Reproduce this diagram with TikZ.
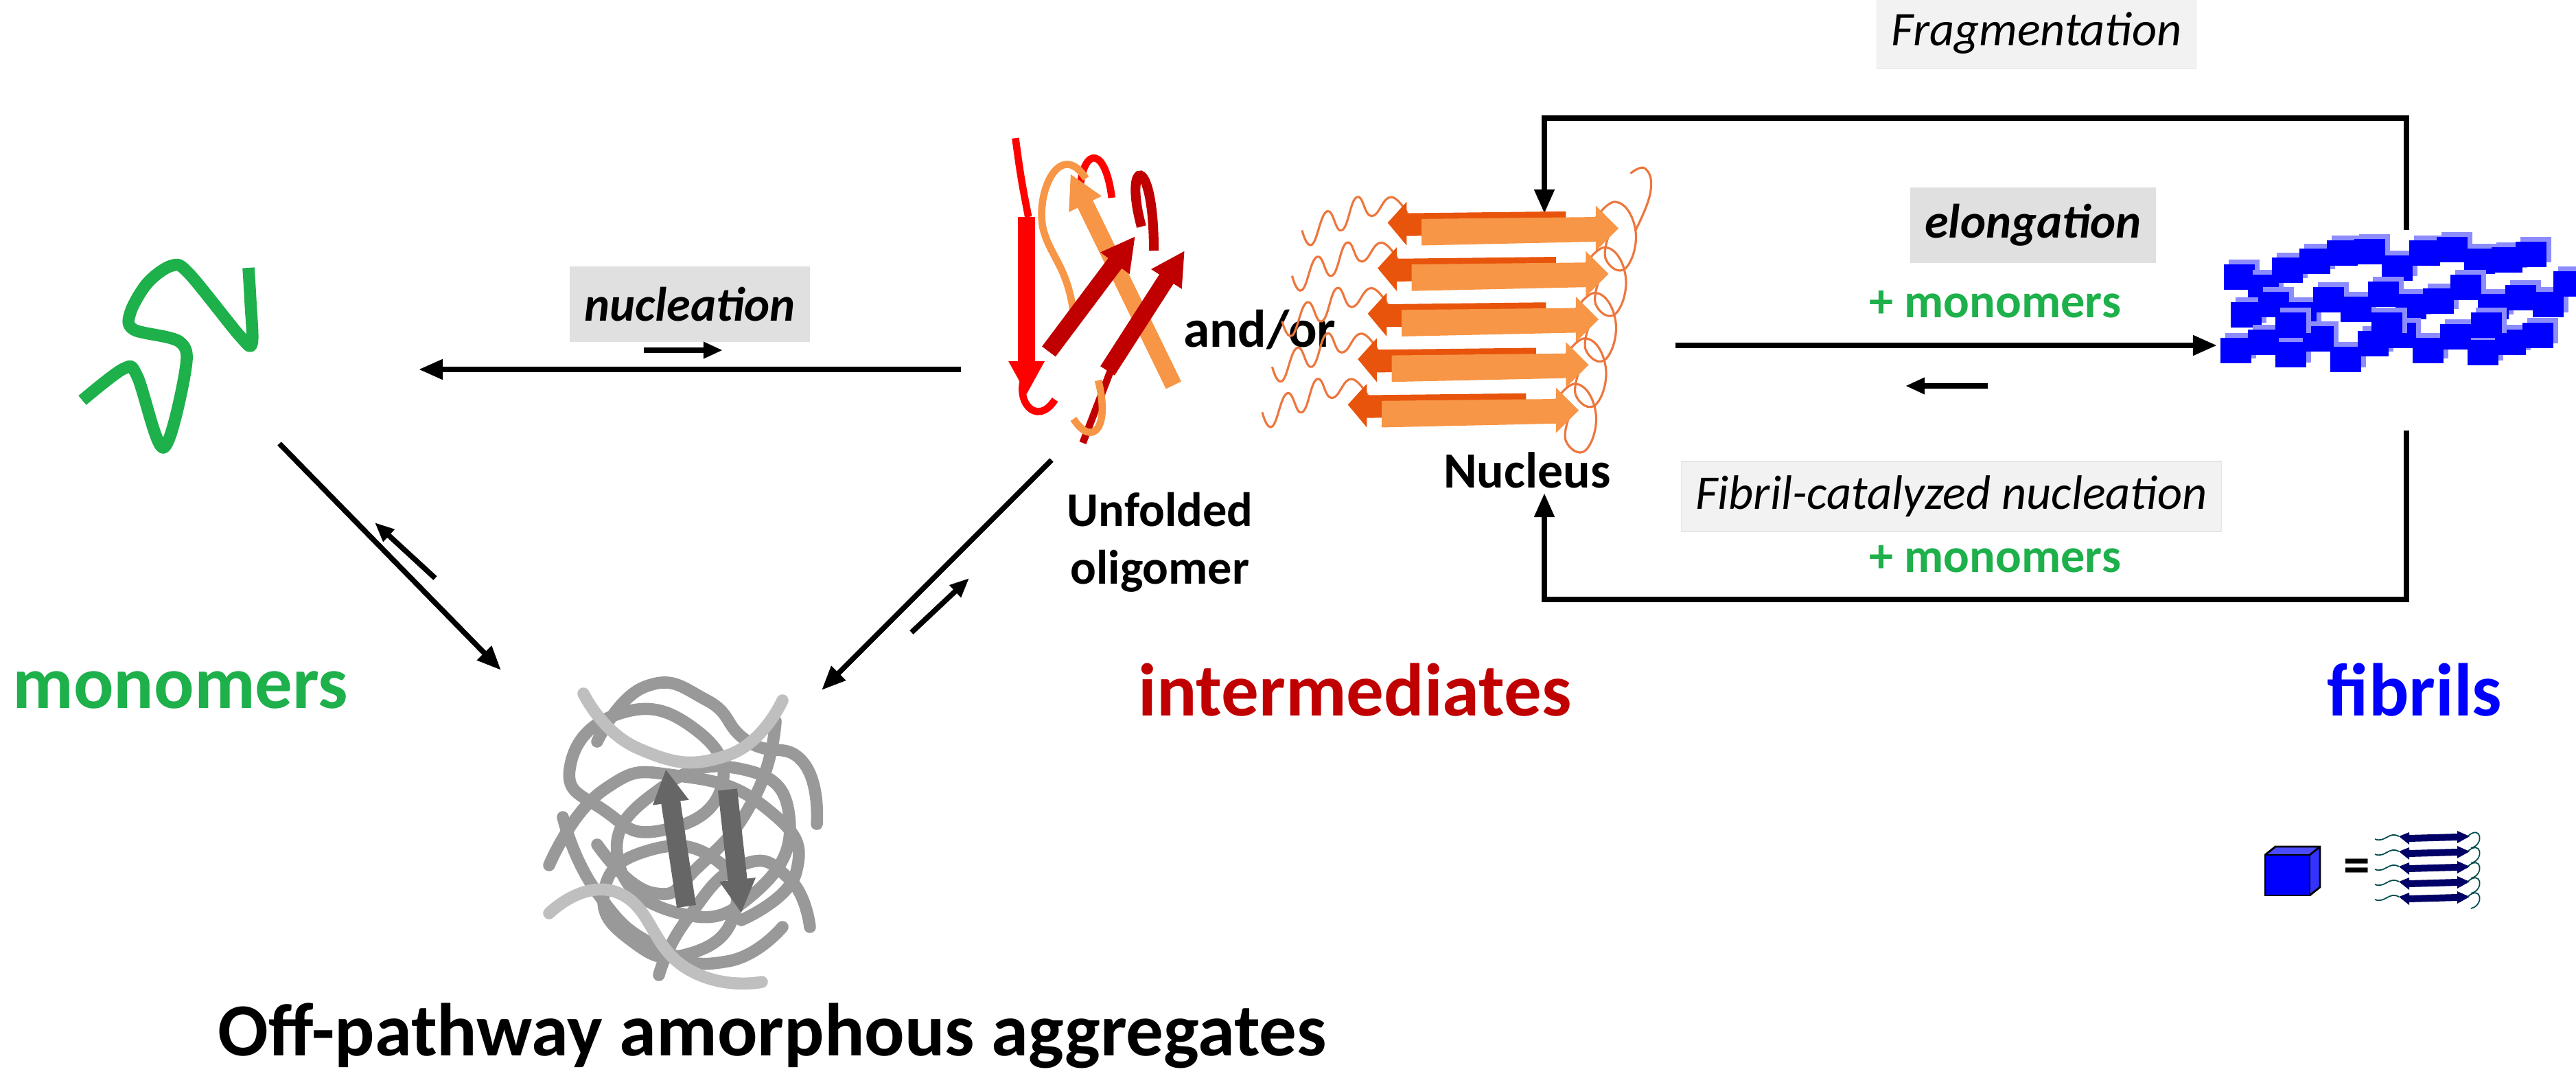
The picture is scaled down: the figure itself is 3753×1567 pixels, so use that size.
\documentclass[tikz,border=0pt]{standalone}
\usepackage{fontspec}
\setmainfont{Carlito}
\usetikzlibrary{arrows.meta}
\definecolor{mgreen}{HTML}{1DB04B}
\definecolor{mred}{HTML}{C00000}
\definecolor{mblue}{HTML}{0000FF}
\definecolor{dred}{HTML}{C00000}
\definecolor{lorange}{HTML}{F79646}
\definecolor{dorange}{HTML}{E8540C}
\begin{document}
\begin{tikzpicture}[x=0.01cm,y=-0.01cm,
  conn/.style={line width=2.2pt,-{Triangle[length=10pt,width=8pt]}},
  small/.style={line width=2.2pt,-{Triangle[length=8pt,width=6.5pt]}},
  big/.style={font=\fontsize{31}{34}\selectfont\bfseries},
  lab/.style={font=\fontsize{20}{24}\selectfont},
  darkbox/.style={fill=black!12,inner sep=6pt,minimum height=31pt},
  lightbox/.style={fill=black!5,draw=black!10,inner sep=6pt,minimum height=27pt},
  strand/.style={line width=7pt,-{Triangle[length=14pt,width=14pt]}},
  cube/.style={fill=mblue,draw=mblue!60!white,line width=0.6pt}]
\useasboundingbox (0,0) rectangle (3753,1567);
% ---------- texts
\node[big,text=mgreen] (mono) at (263,1005) {monomers};
\node[big,text=mred] (inter) at (1974,1005) {intermediates};
\node[big,text=mblue] (fib) at (3518,1005) {fibrils};
\node[big] (off) at (1125,1508) {Off-pathway amorphous aggregates};
\node[lab,font=\fontsize{20}{24}\selectfont\bfseries,align=center] (unf) at (1690,790) {Unfolded\\oligomer};
\node[lab,font=\fontsize{22}{24}\selectfont\bfseries] (andor) at (1835,480) {and/or};
\node[lab,font=\fontsize{21}{24}\selectfont\bfseries] (nucl) at (2225,685) {Nucleus};
\node[darkbox,lab,font=\fontsize{20}{24}\selectfont\bfseries\itshape] (nucbox) at (1005,443) {nucleation};
\node[darkbox,lab,font=\fontsize{20}{24}\selectfont\bfseries\itshape] (elbox) at (2962,328) {elongation};
\node[lab,text=mgreen,font=\fontsize{20}{24}\selectfont\bfseries] (pm1) at (2907,443) {+ monomers};
\node[lightbox,lab,font=\fontsize{20}{24}\selectfont\itshape] (frag) at (2967,48) {Fragmentation};
\node[lightbox,lab,font=\fontsize{20}{24}\selectfont\itshape] (fcat) at (2843,723) {Fibril-catalyzed nucleation};
\node[lab,text=mgreen,font=\fontsize{20}{24}\selectfont\bfseries] (pm2) at (2907,814) {+ monomers};
% ---------- coordinates for connectors
\coordinate (n1) at (1400,538); \coordinate (n2) at (610,538);
\coordinate (s1) at (938,510); \coordinate (s2) at (1053,510);
\coordinate (l1) at (407,646); \coordinate (l2) at (730,976);
\coordinate (ls1) at (634,842); \coordinate (ls2) at (546,761);
\coordinate (r1) at (1532,670); \coordinate (r2) at (1197,1005);
\coordinate (rs1) at (1328,921); \coordinate (rs2) at (1412,842);
\coordinate (e1) at (2441,503); \coordinate (e2) at (3230,503);
\coordinate (es1) at (2896,562); \coordinate (es2) at (2776,562);
\coordinate (f1) at (3506,335); \coordinate (f2) at (2250,311);
\coordinate (b1) at (3506,627); \coordinate (b2) at (2250,718);
\draw[conn] (n1) -- (n2);
\draw[small] (s1) -- (s2);
\draw[conn] (l1) -- (l2);
\draw[small] (ls1) -- (ls2);
\draw[conn] (r1) -- (r2);
\draw[small] (rs1) -- (rs2);
\draw[conn] (e1) -- (e2);
\draw[small] (es1) -- (es2);
\draw[conn] (f1) -- (3506,172) -| (f2);
\draw[conn] (b1) -- (3506,873) -| (b2);
% ---------- green monomer
\draw[mgreen,line width=5pt,line join=round] plot[smooth,tension=0.55] coordinates
 {(120,583) (180,537) (200,548) (238,652) (270,540) (262,498) (195,480) (190,455) (215,412) (250,387) (275,398) (350,490) (367,500) (365,440) (362,390)};
% ---------- amorphous aggregates
\begin{scope}[line width=5pt,line cap=round,black!40]
\draw plot[smooth cycle,tension=0.9] coordinates {(830,1120) (900,1040) (1010,1060) (1050,1150) (960,1210) (880,1180)};
\draw plot[smooth,tension=0.9] coordinates {(800,1260) (880,1150) (990,1130) (1120,1180) (1160,1270) (1080,1340)};
\draw plot[smooth cycle,tension=0.9] coordinates {(900,1250) (960,1150) (1080,1120) (1150,1190) (1100,1300) (990,1330)};
\draw plot[smooth,tension=0.9] coordinates {(870,1080) (940,1000) (1030,1020) (1090,1080) (1170,1110) (1190,1200)};
\draw plot[smooth,tension=0.9] coordinates {(820,1190) (870,1300) (960,1380) (1060,1400) (1140,1350)};
\draw plot[smooth cycle,tension=0.9] coordinates {(880,1300) (940,1240) (1040,1250) (1070,1330) (1000,1390) (920,1370)};
\draw plot[smooth,tension=0.9] coordinates {(1130,1050) (1100,1160) (1020,1260) (950,1300) (870,1230)};
\draw plot[smooth,tension=0.9] coordinates {(960,1420) (1000,1340) (1080,1260) (1150,1280) (1180,1350)};
\draw[black!25] plot[smooth,tension=0.9] coordinates {(850,1010) (930,1090) (1060,1100) (1140,1020)};
\draw[black!25] plot[smooth,tension=0.9] coordinates {(800,1330) (900,1300) (1000,1410) (1110,1430)};
\end{scope}
\draw[black!60,line width=8pt,-{Triangle[length=14pt,width=14pt]}] (1000,1320) -- (970,1120);
\draw[black!60,line width=8pt,-{Triangle[length=14pt,width=14pt]}] (1060,1150) -- (1080,1330);
% ---------- unfolded oligomer
\begin{scope}[shift={(70,-244)},xscale=0.9,yscale=1.4]
\draw[red,line width=3pt] (1566,318) .. controls (1575,360) .. (1587,400);
\draw[red,line width=3pt] (1630,590) .. controls (1600,620) and (1560,590) .. (1585,560);
\draw[red,line width=3pt] (1722,380) .. controls (1710,320) and (1670,330) .. (1670,380);
\draw[lorange,line width=3pt] (1680,360) .. controls (1640,320) and (1600,370) .. (1610,410) .. controls (1620,440) and (1650,450) .. (1660,500);
\draw[dred,line width=4pt] (1790,435) .. controls (1790,330) and (1740,340) .. (1770,410);
\draw[strand,red] (1584,400) -- (1584,585);
\draw[strand,lorange] (1822,575) -- (1655,355);
\draw[strand,dred] (1620,540) -- (1760,420);
\draw[strand,dred] (1715,560) -- (1840,435);
\draw[dred,line width=3pt] (1675,635) -- (1720,560);
\draw[lorange,line width=3pt] (1700,570) .. controls (1720,620) and (1690,640) .. (1660,610);
\end{scope}
% ---------- nucleus
\begin{scope}[shift={(-1061,-189)},xscale=1.45,yscale=1.38]
\foreach \i in {0,...,4}{
  \begin{scope}[shift={(-10*\i,48*\i)}]
   \draw[dorange!80,line width=0.9pt] plot[smooth,tension=0.8] coordinates {(2150,370) (2130,345) (2110,365) (2095,345) (2080,380) (2065,360) (2050,395) (2040,380)};
   \draw[dorange!80,line width=0.9pt] plot[smooth,tension=0.8] coordinates {(2330,375) (2355,350) (2375,380) (2365,420) (2345,410) (2350,380)};
   \fill[dorange] (2126,372) -- (2145,350) -- (2145,362) -- (2305,360) -- (2305,384) -- (2145,386) -- (2145,396) -- cycle;
   \fill[lorange] (2160,368) -- (2335,366) -- (2335,354) -- (2358,378) -- (2335,402) -- (2335,392) -- (2160,396) -- cycle;
  \end{scope}}
\draw[dorange!80,line width=0.9pt] plot[smooth,tension=0.8] coordinates {(2375,380) (2390,340) (2385,315) (2370,320)};
\end{scope}
% ---------- fibrils
\foreach \x/\y in {3240/385,3275/400,3310/375,3350/362,3390/350,3430/348,3470/372,3510/350,3550/345,3590/362,3630/360,3665/352,
  3250/440,3290/425,3330/440,3370/418,3410/432,3450/410,3490/428,3530/420,3570/400,3610/428,3650/415,3690/425,
  3235/492,3275/480,3315/498,3355/475,3395/505,3435/482,3475/470,3515/492,3555/472,3595/495,3635/480,3675/470,3315/455,3455/455,3600/455,3720/395}{
  \fill[blue!45] (\x+7,\y-7) rectangle (\x+52,\y+30);
  \fill[mblue] (\x,\y) rectangle (\x+45,\y+37);}
% ---------- legend
\fill[mblue!70] (3300,1245) -- (3315,1233) -- (3380,1233) -- (3365,1245) -- cycle;
\fill[mblue!80] (3365,1245) -- (3380,1233) -- (3380,1292) -- (3365,1304) -- cycle;
\draw[line width=0.8pt] (3300,1245) -- (3315,1233) -- (3380,1233) -- (3380,1292) -- (3365,1304) (3365,1245) -- (3380,1233);
\draw[fill=mblue,line width=0.8pt] (3300,1245) rectangle (3365,1304);
\node[font=\fontsize{22}{24}\selectfont\bfseries] (eq) at (3434,1268) {=};
\foreach \i in {0,...,4}{
  \fill[blue!40!black] (3495,1218+22*\i) -- (3510,1212+22*\i) -- (3510,1216+22*\i) -- (3580,1214+22*\i) -- (3580,1210+22*\i) -- (3598,1218+22*\i) -- (3580,1228+22*\i) -- (3580,1224+22*\i) -- (3510,1226+22*\i) -- (3510,1230+22*\i) -- cycle;
  \draw[teal!60!black,line width=0.5pt] (3495,1218+22*\i) .. controls (3480,1210+22*\i) and (3475,1228+22*\i) .. (3460,1222+22*\i);
  \draw[teal!60!black,line width=0.5pt] (3595,1218+22*\i) .. controls (3615,1200+22*\i) and (3620,1230+22*\i) .. (3600,1235+22*\i);}
\end{tikzpicture}
\end{document}
